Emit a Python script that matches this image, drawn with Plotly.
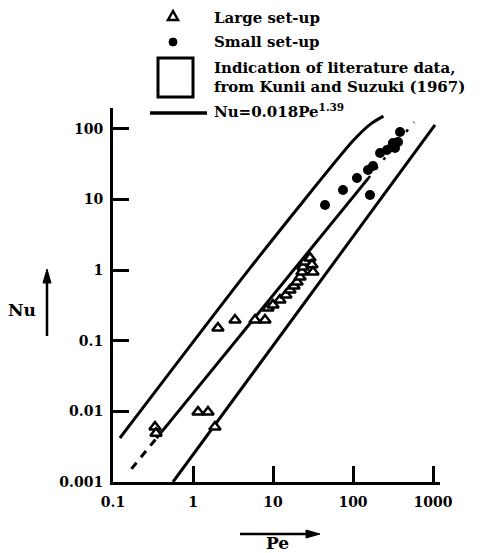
import plotly.graph_objects as go

# ---------------- data ----------------
large_pe = [0.335, 0.345, 1.155, 1.54, 1.88, 2.05, 3.35, 5.96, 7.94, 8.66, 10.0,
            12.2, 14.5, 16.3, 18.3, 20.0, 21.8, 23.0, 23.7, 25.1, 29.0, 30.7, 31.6]
large_nu = [0.0060, 0.0049, 0.0098, 0.0098, 0.0060, 0.152, 0.197, 0.197, 0.197, 0.292, 0.322,
            0.378, 0.446, 0.525, 0.597, 0.681, 0.80, 0.94, 1.11, 1.31, 1.49, 1.19, 0.94]

small_pe = [44.7, 75, 112, 154, 178, 163, 218, 266, 307, 335, 316, 365, 387]
small_nu = [8.39, 13.7, 20.2, 26.2, 29.9, 11.6, 45.7, 50.5, 55.6, 53.8, 63.4, 65.5, 90.8]

# literature envelope (Kunii and Suzuki, 1967)
upper_pe = [0.122, 5.16, 100, 170, 240]
upper_nu = [0.0042, 1.07, 68, 120, 152]
lower_pe = [0.562, 1059]
lower_nu = [0.001, 114]

# correlation Nu = 0.018 Pe^1.39
coef, expo = 0.018, 1.39
fit_solid_pe = [0.35, 155]
fit_low_dash_pe = [0.17, 0.35]
fit_high_dash_pe = [155, 580]

x_ticks = [0.1, 1, 10, 100, 1000]
x_ticktext = ["0.1", "1", "10", "100", "1000"]
y_ticks = [0.001, 0.01, 0.1, 1, 10, 100]
y_ticktext = ["0.001", "0.01", "0.1", "1", "10", "100"]

FONT = "DejaVu Serif"

def fit(pes):
    return [coef * p ** expo for p in pes]

# ---------------- geometry helpers (reference pixel -> paper) ----------------
PAGE_OFF = 8                      # default body margin of the html page
W, H = 491 - PAGE_OFF, 553 - PAGE_OFF
L, T = 113 - PAGE_OFF, 108 - PAGE_OFF
R, B = 491 - 440, 553 - 482
PW, PH = W - L - R, H - T - B

def px(x):
    return (x - PAGE_OFF - L) / PW

def py(y):
    return (T + PH - (y - PAGE_OFF)) / PH

fig = go.Figure()

line_style = dict(color="black", width=3)
fig.add_trace(go.Scatter(x=upper_pe, y=upper_nu, mode="lines",
                         line=dict(color="black", width=3, shape="spline", smoothing=0.6),
                         hoverinfo="skip"))
fig.add_trace(go.Scatter(x=lower_pe, y=lower_nu, mode="lines", line=line_style, hoverinfo="skip"))
fig.add_trace(go.Scatter(x=fit_solid_pe, y=fit(fit_solid_pe), mode="lines", line=line_style, hoverinfo="skip"))
fig.add_trace(go.Scatter(x=fit_low_dash_pe, y=fit(fit_low_dash_pe), mode="lines",
                         line=dict(color="black", width=3, dash="8px,7px"), hoverinfo="skip"))
fig.add_trace(go.Scatter(x=fit_high_dash_pe, y=fit(fit_high_dash_pe), mode="lines",
                         line=dict(color="black", width=2.5, dash="3px,9px"), hoverinfo="skip"))

fig.add_trace(go.Scatter(x=large_pe, y=large_nu, mode="markers",
                         marker=dict(symbol="triangle-up", size=10, color="white",
                                     line=dict(color="black", width=2.5)),
                         cliponaxis=False))
fig.add_trace(go.Scatter(x=small_pe, y=small_nu, mode="markers",
                         marker=dict(symbol="circle", size=10, color="black"),
                         cliponaxis=False))

axis_common = dict(
    type="log", showgrid=False, zeroline=False, showline=True, linecolor="black",
    linewidth=3, ticks="inside", ticklen=16, tickwidth=2.5, tickcolor="black",
    tickfont=dict(family=FONT, size=14, color="black", weight="bold"),
)
fig.update_xaxes(range=[-1, 3.0875], tickvals=x_ticks, ticktext=x_ticktext,
                 ticklabelstandoff=5, **axis_common)
fig.update_yaxes(range=[-3, 2.297], tickvals=y_ticks, ticktext=y_ticktext,
                 ticklabelstandoff=4, **axis_common)

shapes = []
# legend triangle
tx, ty = 173, 16
shapes.append(dict(type="path", xref="paper", yref="paper",
                   path=f"M {px(tx-5)},{py(ty+4)} L {px(tx+5)},{py(ty+4)} L {px(tx)},{py(ty-5)} Z",
                   line=dict(color="black", width=2.5), fillcolor="white"))
# legend dot
dx, dy = 173, 42
shapes.append(dict(type="circle", xref="paper", yref="paper",
                   x0=px(dx-4), x1=px(dx+4), y0=py(dy+4), y1=py(dy-4),
                   line=dict(color="black", width=1), fillcolor="black"))
# legend box
shapes.append(dict(type="rect", xref="paper", yref="paper",
                   x0=px(158), x1=px(193), y0=py(97), y1=py(58),
                   line=dict(color="black", width=3), fillcolor="rgba(0,0,0,0)"))
# legend line
shapes.append(dict(type="line", xref="paper", yref="paper",
                   x0=px(150), x1=px(207), y0=py(113), y1=py(113),
                   line=dict(color="black", width=3.5)))

# axis-name arrows (shaft + head)
shapes.append(dict(type="line", xref="paper", yref="paper",
                   x0=px(47), x1=px(47), y0=py(336), y1=py(280),
                   line=dict(color="black", width=2.5)))
shapes.append(dict(type="path", xref="paper", yref="paper",
                   path=f"M {px(43)},{py(283)} L {px(51)},{py(283)} L {px(47)},{py(269)} Z",
                   line=dict(color="black", width=1), fillcolor="black"))
shapes.append(dict(type="line", xref="paper", yref="paper",
                   x0=px(240), x1=px(310), y0=py(534), y1=py(534),
                   line=dict(color="black", width=2.5)))
shapes.append(dict(type="path", xref="paper", yref="paper",
                   path=f"M {px(306)},{py(530)} L {px(306)},{py(538)} L {px(320)},{py(534)} Z",
                   line=dict(color="black", width=1), fillcolor="black"))

annots = []
leg_font = dict(family=FONT, size=15, color="black", weight="bold")
for txt, yy in [("Large set-up", 18), ("Small set-up", 42),
                ("Indication of literature data,", 68),
                ("from Kunii and Suzuki (1967)", 87),
                ("Nu=0.018Pe<sup>1.39</sup>", 111)]:
    annots.append(dict(text=txt, x=px(212), y=py(yy), xref="paper", yref="paper",
                       xanchor="left", yanchor="middle", showarrow=False, font=leg_font))

lab_font = dict(family=FONT, size=17, color="black", weight="bold")
annots.append(dict(text="Nu", x=px(22), y=py(310), xref="paper", yref="paper",
                   xanchor="center", yanchor="middle", showarrow=False, font=lab_font))
annots.append(dict(text="Pe", x=px(277), y=py(543), xref="paper", yref="paper",
                   xanchor="center", yanchor="middle", showarrow=False, font=lab_font))

fig.update_layout(
    width=W, height=H, margin=dict(l=L, r=R, t=T, b=B, autoexpand=False),
    paper_bgcolor="white", plot_bgcolor="white", showlegend=False,
    shapes=shapes, annotations=annots,
)

fig.write_html("out.html")
